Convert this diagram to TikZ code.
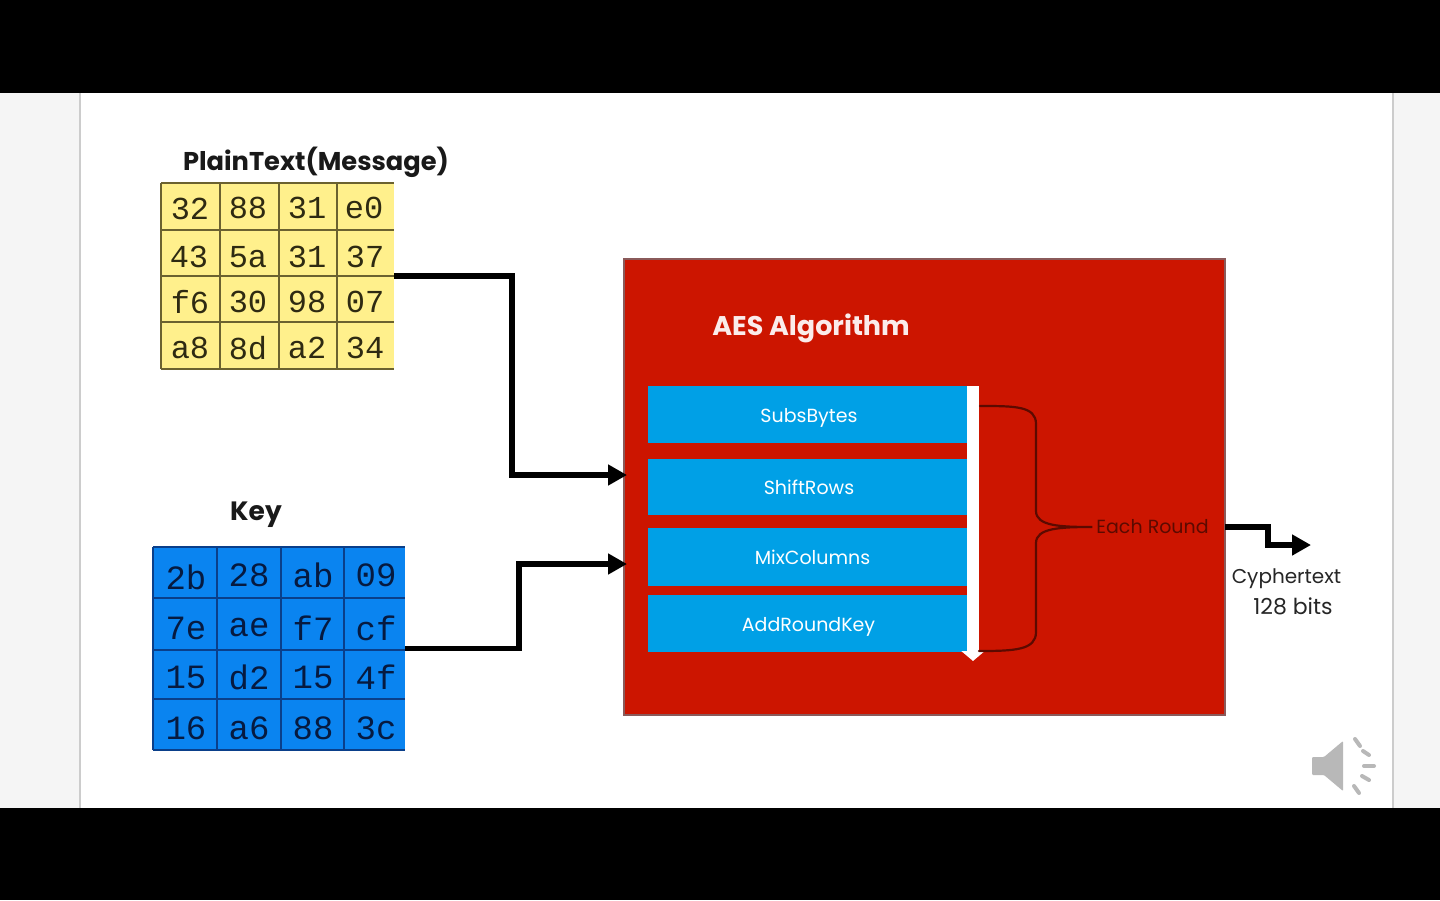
\documentclass[tikz,border=0pt]{standalone}
\usepackage{fontspec}
\setmainfont{Poppins}
\setmonofont{Liberation Mono}
\usetikzlibrary{arrows.meta,calc}
\definecolor{aesred}{HTML}{CC1500}
\definecolor{barblue}{HTML}{00A0E6}
\definecolor{keyblue}{HTML}{0A84F0}
\definecolor{plainyellow}{HTML}{FFF08C}
\definecolor{sidegray}{HTML}{F5F5F5}
\definecolor{edgegray}{HTML}{CCCCCC}
\definecolor{bracecol}{HTML}{5C0A00}
\definecolor{speaker}{HTML}{B8B8B8}
\definecolor{ygrid}{HTML}{6B6230}
\definecolor{ytext}{HTML}{2E2A12}
\definecolor{kgrid}{HTML}{0A3F8A}
\definecolor{ktext}{HTML}{061A40}
\definecolor{aesedge}{HTML}{8A5A5A}
\tikzset{
  px/.style={x=1pt,y=-1pt},
  grid box/.style={draw=none,inner sep=0pt,outer sep=0pt},
  ycell/.style={font=\ttfamily\fontsize{32}{32}\selectfont,text=ytext,inner sep=0pt},
  kcell/.style={font=\ttfamily\fontsize{34}{34}\selectfont,text=ktext,inner sep=0pt},
  title/.style={inner sep=0pt,text=black!90},
  barlabel/.style={draw=none,fill=barblue,text=white,inner sep=0pt,minimum width=319pt,text height=17pt,text depth=2pt,font=\fontsize{19}{19}\selectfont},
  flow/.style={line width=5.5pt,shorten >=-3pt,-{Triangle[length=19pt,width=20pt]}},
  brace line/.style={draw=bracecol,line width=2.2pt,line cap=round},
}
\begin{document}
\begin{tikzpicture}[px]
\useasboundingbox (0,0) rectangle (1440,900);
% screen
\fill[white] (0,0) rectangle (1440,900);
\fill[sidegray] (0,93) rectangle (80,808);
\fill[sidegray] (1393,93) rectangle (1440,808);
\draw[edgegray,line width=1.5pt] (80,93) -- (80,808);
\draw[edgegray,line width=1.5pt] (1393,93) -- (1393,808);
\fill[black] (0,0) rectangle (1440,93);
\fill[black] (0,808) rectangle (1440,900);
% plaintext grid
\node[title,font=\fontsize{25.7}{26}\selectfont\bfseries] (plaintitle) at (316,162) {PlainText(Message)};
\node[grid box,fill=plainyellow,minimum width=233pt,minimum height=186pt] (plain) at (277.5,276) {};
\foreach \y in {183,230,276,322,369} \draw[ygrid,line width=1.5pt] (161,\y) -- (394,\y);
\foreach \x in {161,220,279,337} \draw[ygrid,line width=1.5pt] (\x,183) -- (\x,369);
\foreach \t/\x/\y/\n in {32/190/209/a,88/248/208/b,31/307/208/c,e0/364/208/d,
  43/189/257/e,5a/248/257/f,31/307/257/g,37/365/257/h,
  f6/190/302/i,30/248/302/j,98/307/302/k,07/365/302/l,
  a8/190/348/m,8d/248/348/n,a2/307/348/o,34/365/348/p}
  \node[ycell] (y\n) at (\x,\y) {\t};
% key grid
\node[title,font=\fontsize{26.5}{27}\selectfont\bfseries] (keytitle) at (256,515) {Key};
\node[grid box,fill=keyblue,minimum width=252pt,minimum height=203pt] (key) at (279,648.5) {};
\foreach \y in {547,598,650,699,750} \draw[kgrid,line width=1.3pt] (153,\y) -- (405,\y);
\foreach \x in {153,217,281,344} \draw[kgrid,line width=1.3pt] (\x,547) -- (\x,750);
\foreach \t/\x/\y/\n in {2b/186/577/a,28/249/575/b,ab/313/575/c,09/376/575/d,
  7e/186/628/e,ae/249/628/f,f7/313/628/g,cf/376/628/h,
  15/186/677/i,d2/249/677/j,15/313/677/k,4f/376/677/l,
  16/186/728/m,a6/249/728/n,88/313/728/o,3c/376/728/p}
  \node[kcell] (k\n) at (\x,\y) {\t};
% AES box
\node[draw=aesedge,line width=1.4pt,fill=aesred,minimum width=601pt,minimum height=456pt,inner sep=0pt,outer sep=0pt] (aes) at (924.5,487) {};
\node[title,text=white!92!aesred,font=\fontsize{27}{27}\selectfont\bfseries] (aestitle) at (811,328) {AES Algorithm};
\node[barlabel,minimum height=57pt] (sub) at (807.5,414.5) {\hspace*{3pt}SubsBytes};
\node[barlabel,minimum height=56pt] (shift) at (807.5,487) {\hspace*{3pt}ShiftRows};
\node[barlabel,minimum height=58pt] (mix) at (807.5,557) {\hspace*{10pt}MixColumns};
\node[barlabel,minimum height=57pt] (add) at (807.5,623.5) {\hspace*{2pt}AddRoundKey};
% white downward arrow
\coordinate (wtop) at (973,386);
\coordinate (wbot) at (973,661);
\draw[white,line width=12pt,-{Triangle[length=10pt,width=23pt,fill=white]}] (wtop) -- (wbot);
% brace
\node[inner sep=0pt,outer sep=4pt,text=bracecol,font=\fontsize{19}{19}\selectfont] (round) at (1152.5,527) {Each Round};
\coordinate (btop) at (980,406);
\coordinate (bbot) at (979,651);
\draw[brace line] (btop) .. controls (1015,406) and (1036,406) .. (1036,424) -- (1036,511)
  .. controls (1036,526) and (1060,527) .. (round.west)
  .. controls (1060,527) and (1036,528) .. (1036,543) -- (1036,632)
  .. controls (1036,650) and (1015,651) .. (bbot);
% connectors
\coordinate (in1) at (aes.west |- 0,475);
\coordinate (in2) at (aes.west |- 0,564);
\coordinate (out1) at (aes.east |- 0,527);
\coordinate (outend) at (1308,545);
\draw[flow] (plain.east) -- (512,276) -- (512,475) -- (in1);
\draw[flow] (key.east) -- (519,648.5) -- (519,564) -- (in2);
\draw[flow] (out1) -- (1268,527) -- (1268,545) -- (outend);
% output text
\node[inner sep=0pt,text=black!85,font=\fontsize{20}{20}\selectfont] (cy) at (1286.5,579) {Cyphertext};
\node[inner sep=0pt,text=black!85,font=\fontsize{22}{22}\selectfont] (bits) at (1293,606) {128 bits};
% speaker icon
\fill[speaker,rounded corners=1pt] (1312,757) -- (1324,757) -- (1343,741) -- (1343,791) -- (1324,775) -- (1312,775) -- cycle;
\foreach \a/\b/\c/\d in {1355/739/1360/746, 1363/751/1369/755, 1364/766/1374/766, 1362/776/1369/780, 1354/786/1359/793}
  \draw[speaker,line width=4pt,line cap=round] (\a,\b) -- (\c,\d);
\end{tikzpicture}
\end{document}
